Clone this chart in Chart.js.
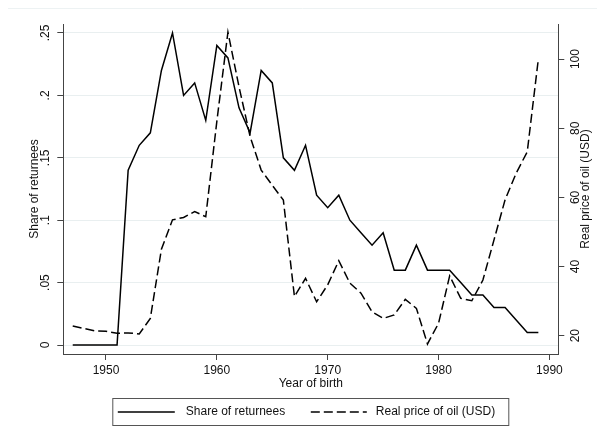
<!DOCTYPE html>
<html>
<head>
<meta charset="utf-8">
<script src="https://cdn.jsdelivr.net/npm/chart.js"></script>
<style>
  html, body { margin: 0; padding: 0; background: #fff; }
</style>
</head>
<body>
<canvas id="chart" width="597" height="437"></canvas>
<script>
// data
const years = [
  1947, 1948, 1949, 1950, 1951, 1952, 1953, 1954, 1955, 1956,
  1957, 1958, 1959, 1960, 1961, 1962, 1963, 1964, 1965, 1966,
  1967, 1968, 1969, 1970, 1971, 1972, 1973, 1974, 1975, 1976,
  1977, 1978, 1979, 1980, 1981, 1982, 1983, 1984, 1985, 1986,
  1987, 1988, 1989
];
const shareReturnees = [
  0, 0, 0, 0, 0, 0.14, 0.16, 0.17, 0.22, 0.25,
  0.20, 0.21, 0.18, 0.24, 0.23, 0.19, 0.17, 0.22, 0.21, 0.15,
  0.14, 0.16, 0.12, 0.11, 0.12, 0.10, 0.09, 0.08, 0.09, 0.06,
  0.06, 0.08, 0.06, 0.06, 0.06, 0.05, 0.04, 0.04, 0.03, 0.03,
  0.02, 0.01, 0.01
];
const oilPrice = [
  22.8, 22.1, 21.4, 21.3, 20.7, 20.8, 20.5, 25.0, 45.0, 53.5,
  54.2, 55.9, 54.4, 82.0, 107.8, 92.0, 77.6, 67.9, 63.5, 59.2,
  31.3, 36.6, 29.8, 34.7, 41.7, 35.2, 32.3, 26.9, 25.0, 26.0,
  30.5, 27.9, 17.6, 23.6, 37.3, 30.8, 30.1, 36.1, 47.7, 59.3,
  67.0, 73.2, 100.0
];
const yearTicks = [1950, 1960, 1970, 1980, 1990];
const shareTicks = [0, 0.05, 0.1, 0.15, 0.2, 0.25];
const shareTickLabels = ['0', '.05', '.1', '.15', '.2', '.25'];
const oilTicks = [20, 40, 60, 80, 100];
const oilTickLabels = ['20', '40', '60', '80', '100'];

const FONT = '"Liberation Sans", Arial, sans-serif';
const AXIS = '#444';

// stata-like extras: vertical tick labels, right title, boxed legend
const stataStyle = {
    id: 'stataStyle',
    beforeDraw(chart) {
        const ctx = chart.ctx;
        ctx.save();
        ctx.strokeStyle = '#edf2f3';
        ctx.lineWidth = 1;
        ctx.beginPath();
        ctx.moveTo(8, 8.5);
        ctx.lineTo(chart.width, 8.5);
        ctx.stroke();
        ctx.restore();
    },
    afterDraw(chart) {
        const ctx = chart.ctx;
        const area = chart.chartArea;
        const left = chart.scales.yShare;
        const right = chart.scales.yOil;

        const vText = (txt, x, y) => {
            ctx.save();
            ctx.translate(x, y);
            ctx.rotate(-Math.PI / 2);
            ctx.fillText(txt, 0, 0);
            ctx.restore();
        };

        ctx.save();
        ctx.fillStyle = '#111';
        ctx.font = '12px ' + FONT;
        ctx.textAlign = 'center';
        ctx.textBaseline = 'middle';
        shareTicks.forEach((v, i) => vText(shareTickLabels[i], left.right - 18, left.getPixelForValue(v)));
        oilTicks.forEach((v, i) => vText(oilTickLabels[i], right.left + 17, right.getPixelForValue(v)));
        vText('Real price of oil (USD)', right.left + 27.5, (area.top + area.bottom) / 2);

        // legend
        const ds = chart.data.datasets;
        const cx = (area.left + area.right) / 2;
        const bx = cx - 198, by = 398.5, bw = 396, bh = 27;
        ctx.strokeStyle = '#555';
        ctx.lineWidth = 1;
        ctx.strokeRect(bx, by, bw, bh);
        const ly = by + 13.5;
        const items = [
            { x0: bx + 5, x1: bx + 62, tx: bx + 73 },
            { x0: bx + 198, x1: bx + 254, tx: bx + 263 }
        ];
        ctx.textAlign = 'left';
        items.forEach((it, i) => {
            ctx.save();
            ctx.strokeStyle = ds[i].borderColor;
            ctx.lineWidth = ds[i].borderWidth;
            ctx.setLineDash(ds[i].borderDash || []);
            ctx.beginPath();
            ctx.moveTo(it.x0, ly);
            ctx.lineTo(it.x1, ly);
            ctx.stroke();
            ctx.restore();
            ctx.fillText(ds[i].label, it.tx, ly);
        });
        ctx.restore();
    }
};

new Chart(document.getElementById('chart'), {
    type: 'line',
    data: {
        datasets: [
            {
                label: 'Share of returnees',
                data: years.map((y, i) => ({ x: y, y: shareReturnees[i] })),
                yAxisID: 'yShare',
                borderColor: '#000',
                borderWidth: 1.5,
                pointRadius: 0,
                tension: 0
            },
            {
                label: 'Real price of oil (USD)',
                data: years.map((y, i) => ({ x: y, y: oilPrice[i] })),
                yAxisID: 'yOil',
                borderColor: '#000',
                borderWidth: 1.5,
                borderDash: [9, 4],
                pointRadius: 0,
                tension: 0
            }
        ]
    },
    options: {
        responsive: false,
        animation: false,
        layout: { padding: { top: 24, left: 0, right: 0, bottom: 0 } },
        plugins: {
            legend: { display: false },
            tooltip: { enabled: false }
        },
        scales: {
            x: {
                type: 'linear',
                min: 1946.15,
                max: 1990.8,
                afterBuildTicks: s => { s.ticks = yearTicks.map(v => ({ value: v })); },
                afterFit: s => { s.height = 83; },
                grid: { drawOnChartArea: false, tickLength: 6, tickColor: AXIS },
                border: { color: AXIS },
                ticks: {
                    color: '#111',
                    font: { family: FONT, size: 12 },
                    padding: 3,
                    maxRotation: 0,
                    callback: v => String(v)
                },
                title: {
                    display: true,
                    text: 'Year of birth',
                    color: '#111',
                    font: { family: FONT, size: 12 },
                    padding: { top: 0, bottom: 45.8 }
                }
            },
            yShare: {
                position: 'left',
                min: -0.0072,
                max: 0.2572,
                afterBuildTicks: s => { s.ticks = shareTicks.map(v => ({ value: v })); },
                afterFit: s => { s.width = 63.3; },
                grid: { color: '#e9eff0', tickLength: 6, tickColor: AXIS },
                border: { color: AXIS },
                ticks: { display: false },
                title: {
                    display: true,
                    text: 'Share of returnees',
                    color: '#111',
                    font: { family: FONT, size: 12 },
                    padding: { top: 27, bottom: 0 }
                }
            },
            yOil: {
                position: 'right',
                min: 14.7,
                max: 110.15,
                afterBuildTicks: s => { s.ticks = oilTicks.map(v => ({ value: v })); },
                afterFit: s => { s.width = 38.7; },
                grid: { drawOnChartArea: false, tickLength: 6, tickColor: AXIS },
                border: { color: AXIS },
                ticks: { display: false }
            }
        }
    },
    plugins: [stataStyle]
});
</script>
</body>
</html>
